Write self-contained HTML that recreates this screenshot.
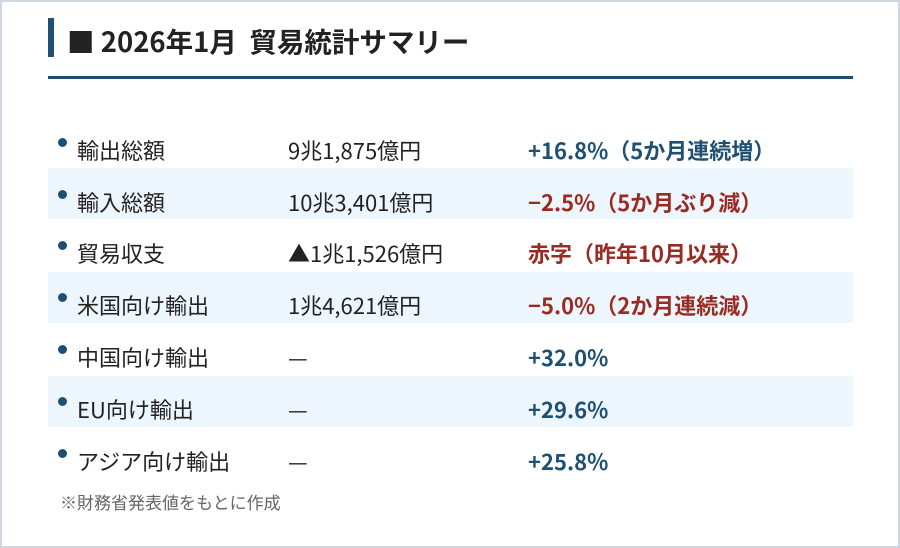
<!DOCTYPE html>
<html><head><meta charset="utf-8"><style>
*{margin:0;padding:0;box-sizing:border-box}
body{width:900px;height:548px;background:#fff;font-family:"Noto Sans CJK JP","Liberation Sans",sans-serif;position:relative;overflow:hidden}
.frame{position:absolute;left:0;top:0;width:900px;height:548px;border:2px solid #cfd8e2}
.acc{position:absolute;left:48px;top:18px;width:6px;height:39px;background:#1d5073}
.title{position:absolute;left:67px;top:18px;font-size:27.5px;font-weight:bold;color:#222;line-height:44px;white-space:nowrap}
.rule{position:absolute;left:48px;top:76px;width:805px;height:3px;background:#1d5073}
.sh{position:absolute;left:48px;width:805px;height:51px;background:#eef6fd}
.t{position:absolute;font-size:22px;line-height:30px;color:#222;white-space:nowrap}
.dot{position:absolute;left:58px;width:9px;height:9px;border-radius:50%;background:#1d5073}
.l{left:77px}.v{left:288px}.c{left:528px;font-weight:bold}
.b{color:#1d5073}.r{color:#9a2b22}
.note{position:absolute;left:60px;top:490px;font-size:17px;line-height:24px;color:#666}
</style></head><body>
<div class="frame"></div>
<div class="acc"></div>
<div class="title">■ 2026年1月&nbsp; 貿易統計サマリー</div>
<div class="rule"></div>
<div class="sh" style="top:168px"></div>
<div class="sh" style="top:272px"></div>
<div class="sh" style="top:376px"></div>

<i class="dot" style="top:138px"></i><span class="t l" style="top:135px">輸出総額</span><span class="t v" style="top:135px">9兆1,875億円</span><span class="t c b" style="top:135px">+16.8%（5か月連続増）</span>
<i class="dot" style="top:190px"></i><span class="t l" style="top:187px">輸入総額</span><span class="t v" style="top:187px">10兆3,401億円</span><span class="t c r" style="top:187px">−2.5%（5か月ぶり減）</span>
<i class="dot" style="top:241px"></i><span class="t l" style="top:238px">貿易収支</span><span class="t v" style="top:238px">▲1兆1,526億円</span><span class="t c r" style="top:238px">赤字（昨年10月以来）</span>
<i class="dot" style="top:293px"></i><span class="t l" style="top:290px">米国向け輸出</span><span class="t v" style="top:290px">1兆4,621億円</span><span class="t c r" style="top:290px">−5.0%（2か月連続減）</span>
<i class="dot" style="top:345px"></i><span class="t l" style="top:342px">中国向け輸出</span><span class="t v" style="top:342px">—</span><span class="t c b" style="top:342px">+32.0%</span>
<i class="dot" style="top:397px"></i><span class="t l" style="top:394px">EU向け輸出</span><span class="t v" style="top:394px">—</span><span class="t c b" style="top:394px">+29.6%</span>
<i class="dot" style="top:449px"></i><span class="t l" style="top:446px">アジア向け輸出</span><span class="t v" style="top:446px">—</span><span class="t c b" style="top:446px">+25.8%</span>
<div class="note">※財務省発表値をもとに作成</div>
</body></html>
